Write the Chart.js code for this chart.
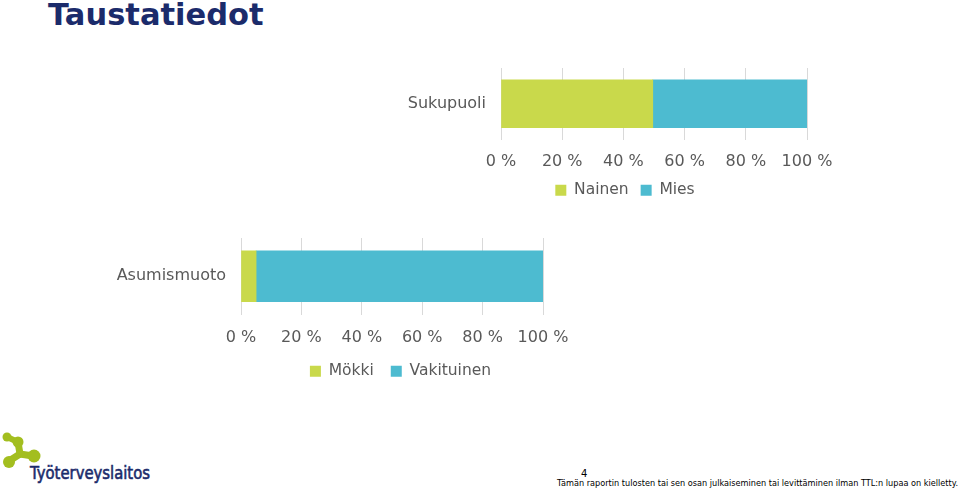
<!DOCTYPE html>
<html>
<head>
<meta charset="utf-8">
<script src="https://cdn.jsdelivr.net/npm/chart.js@4.4.1/dist/chart.umd.min.js"></script>
<style>
  body { margin: 0; width: 960px; height: 488px; background: #fff; position: relative; overflow: hidden; font-family: "DejaVu Sans", sans-serif; }
  #title { position: absolute; left: 48px; top: -1px; font-size: 30.5px; line-height: 31px; font-weight: bold; color: #1b2b6b; }
  #genderChart { position: absolute; left: 390px; top: 60px; }
  #housingChart { position: absolute; left: 100px; top: 230px; }
  #logo { position: absolute; left: 0; top: 425px; }
  #footer { position: absolute; left: 540px; top: 460px; }
</style>
</head>
<body>
<div id="title">Taustatiedot</div>
<canvas id="genderChart" width="470" height="148"></canvas>
<canvas id="housingChart" width="600" height="159"></canvas>

<svg id="logo" width="160" height="63">
  <g fill="#a3be1f" stroke="#a3be1f" stroke-linecap="round">
    <circle cx="7" cy="12" r="4.5" stroke="none"/>
    <line x1="7" y1="12" x2="18" y2="17" stroke-width="6"/>
    <circle cx="18" cy="17" r="5.5" stroke="none"/>
    <line x1="18" y1="17" x2="20" y2="29" stroke-width="7"/>
    <line x1="20" y1="29" x2="9" y2="36" stroke-width="7"/>
    <line x1="20" y1="29" x2="33" y2="31" stroke-width="7"/>
    <circle cx="9" cy="37" r="6" stroke="none"/>
    <circle cx="34" cy="31" r="6.5" stroke="none"/>
  </g>
  <text x="30" y="54" font-family="DejaVu Sans" font-size="17" fill="#1b2b6b" stroke="#1b2b6b" stroke-width="0.6" textLength="120" lengthAdjust="spacingAndGlyphs">Työterveyslaitos</text>
</svg>

<svg id="footer" width="420" height="28">
  <text x="41" y="17" font-family="DejaVu Sans" font-size="10" fill="#000">4</text>
  <text x="17" y="26" font-family="DejaVu Sans" font-size="9.5" fill="#000" textLength="401" lengthAdjust="spacingAndGlyphs">Tämän raportin tulosten tai sen osan julkaiseminen tai levittäminen ilman TTL:n lupaa on kielletty.</text>
</svg>

<script>
const genderCategories = ["Sukupuoli"];
const genderSeries = ["Nainen", "Mies"];
const genderValues = [49.6, 50.4];

const housingCategories = ["Asumismuoto"];
const housingSeries = ["Mökki", "Vakituinen"];
const housingValues = [5, 95];

const tickStep = 20;
const tickSuffix = " %";

const seriesColors = ["#c9d94b", "#4dbbd0"];
const textColor = "#595959";

function buildChart(canvasId, categories, series, values, layoutOpts) {
  const datasets = series.map((name, i) => ({
    label: name,
    data: [values[i]],
    backgroundColor: seriesColors[i],
    borderWidth: 0,
    barThickness: layoutOpts.barThickness,
  }));

  new Chart(document.getElementById(canvasId).getContext("2d"), {
    type: "bar",
    data: { labels: categories, datasets: datasets },
    options: {
      indexAxis: "y",
      responsive: false,
      animation: false,
      layout: { padding: { left: layoutOpts.padLeft, right: layoutOpts.padRight, top: 8, bottom: 0 } },
      plugins: {
        legend: {
          position: "bottom",
          labels: {
            boxWidth: 11,
            boxHeight: 11,
            padding: layoutOpts.legendPadding,
            color: textColor,
            font: { size: 15.5 },
          },
        },
        tooltip: { enabled: false },
      },
      scales: {
        x: {
          stacked: true,
          min: 0,
          max: 100,
          border: { display: false },
          grid: { color: "#d9d9d9", drawTicks: false },
          ticks: {
            stepSize: tickStep,
            padding: layoutOpts.tickPadding,
            color: textColor,
            font: { size: 16 },
            callback: (value) => value + tickSuffix,
          },
          afterFit: (scale) => { scale.height = layoutOpts.xHeight; },
        },
        y: {
          stacked: true,
          border: { display: false },
          grid: { display: false, drawTicks: false },
          ticks: { padding: 15, color: textColor, font: { size: 16 } },
          afterFit: (scale) => {
            scale.width = layoutOpts.yWidth;
            scale.paddingTop = 0;
            scale.paddingBottom = 0;
          },
        },
        // empty box on the right so the legend is centred like the original
        yRight: {
          type: "category",
          labels: [""],
          position: "right",
          border: { display: false },
          grid: { display: false, drawTicks: false },
          ticks: { display: false },
          afterFit: (scale) => {
            scale.width = layoutOpts.rightBox;
            scale.paddingTop = 0;
            scale.paddingBottom = 0;
          },
        },
      },
    },
  });
}

Chart.defaults.font.family = '"DejaVu Sans", sans-serif';

buildChart("genderChart", genderCategories, genderSeries, genderValues, {
  barThickness: 48, tickPadding: 13, xHeight: 31, legendPadding: 12,
  padLeft: 5, padRight: 5, yWidth: 106, rightBox: 48,
});

buildChart("housingChart", housingCategories, housingSeries, housingValues, {
  barThickness: 51, tickPadding: 14, xHeight: 32, legendPadding: 17,
  padLeft: 10, padRight: 9, yWidth: 131, rightBox: 148,
});
</script>
</body>
</html>
